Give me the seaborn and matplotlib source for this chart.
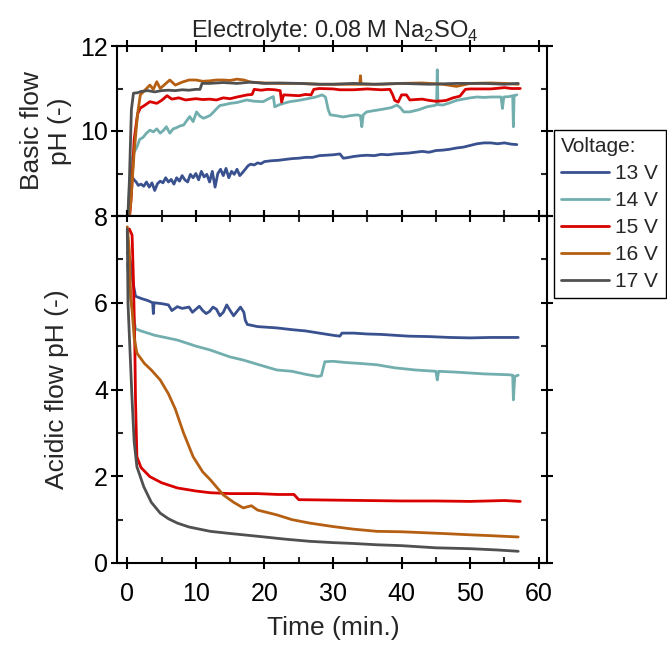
import matplotlib
matplotlib.use("Agg")
import matplotlib.pyplot as plt
from matplotlib.lines import Line2D
from matplotlib.ticker import MultipleLocator
import pandas as pd
import seaborn as sns

VOLTAGES = ["13 V", "14 V", "15 V", "16 V", "17 V"]
COLORS = ["#3a5190", "#72aeae", "#d90000", "#b55f12", "#505050"]

# Basic flow pH (time in min., pH)
BASIC_13 = [(0.0,7.7),(0.3,8.3),(0.5,8.75),(0.8,8.9),(1.0,8.85),(1.3,8.8),(1.6,8.72),(2.0,8.75),(2.4,8.7),(2.8,8.8),(3.2,8.68),(3.6,8.78),(4.0,8.6),(4.4,8.76),(4.8,8.82),(5.2,8.78),(5.6,8.9),(6.0,8.8),(6.4,8.86),(6.8,8.75),(7.2,8.9),(7.6,8.82),(8.0,8.95),(8.4,8.85),(8.8,8.8),(9.2,8.98),(9.6,8.9),(10.0,9.0),(10.4,8.85),(10.8,9.05),(11.2,8.92),(11.6,8.98),(12.0,8.8),(12.4,9.05),(12.8,8.68),(13.2,9.0),(13.6,9.1),(14.0,8.95),(14.4,9.12),(14.8,8.9),(15.2,9.05),(15.6,8.98),(16.0,9.1),(16.4,8.95),(16.8,9.02),(17.2,9.1),(17.6,9.18),(18.0,9.22),(18.5,9.2),(19.0,9.25),(19.5,9.23),(20,9.28),(21,9.3),(22,9.31),(23,9.33),(24,9.35),(25,9.36),(26,9.38),(27,9.38),(28,9.42),(29,9.43),(30,9.44),(31,9.46),(31.5,9.36),(32,9.37),(33,9.4),(34,9.42),(35,9.43),(36,9.42),(37,9.45),(38,9.44),(39,9.46),(40,9.47),(41,9.48),(42,9.5),(43,9.52),(44,9.5),(45,9.54),(46,9.55),(47,9.57),(48,9.6),(49,9.62),(50,9.66),(51,9.7),(52,9.72),(53,9.72),(54,9.7),(55,9.72),(56,9.69),(56.8,9.68)]
BASIC_14 = [(0.0,7.7),(0.3,8.6),(0.6,9.3),(1.0,9.5),(1.4,9.62),(1.8,9.8),(2.3,9.85),(2.8,9.95),(3.3,10.02),(3.8,9.98),(4.3,10.05),(4.8,9.95),(5.3,10.02),(5.7,10.1),(6.2,9.95),(6.7,10.05),(7.2,10.08),(7.7,10.12),(8.2,10.14),(8.7,10.25),(9.1,10.34),(9.6,10.22),(10.1,10.45),(10.6,10.35),(11.1,10.3),(11.6,10.33),(12.1,10.37),(12.6,10.45),(13.0,10.52),(13.5,10.6),(14.2,10.62),(15.0,10.65),(16.0,10.67),(17.4,10.73),(18.5,10.7),(19.8,10.69),(20.5,10.75),(21.3,10.81),(21.5,10.57),(22.2,10.62),(23.0,10.66),(23.7,10.69),(25.0,10.72),(26.6,10.77),(27.5,10.8),(28.4,10.85),(28.9,10.8),(29.3,10.5),(29.6,10.38),(30.5,10.36),(31.5,10.33),(32.5,10.36),(33.5,10.38),(34.0,10.36),(34.2,10.1),(34.4,10.38),(34.9,10.45),(36.4,10.49),(37.5,10.52),(38.5,10.55),(39.3,10.61),(39.8,10.55),(40.3,10.45),(41.2,10.45),(42.5,10.5),(43.7,10.57),(44.8,10.6),(45.1,10.62),(45.2,11.44),(45.3,10.62),(46,10.61),(47,10.66),(48,10.72),(49,10.75),(50,10.78),(51,10.8),(52,10.79),(53,10.8),(54.5,10.8),(54.7,10.53),(54.9,10.8),(55.7,10.81),(56.2,10.83),(56.3,10.1),(56.4,10.83),(56.8,10.85)]
BASIC_15 = [(0.2,7.7),(0.6,8.5),(1.0,9.8),(1.5,10.4),(1.9,10.54),(2.5,10.6),(3.3,10.69),(4.3,10.65),(5.0,10.72),(5.8,10.83),(6.5,10.75),(7.5,10.78),(8.5,10.73),(10,10.76),(11,10.74),(12,10.75),(13,10.73),(14,10.78),(15,10.76),(16,10.8),(17.5,10.85),(18.2,10.86),(18.5,10.98),(19.5,10.96),(20.5,10.98),(21.5,10.97),(22.3,10.95),(22.5,10.68),(22.8,10.85),(24,10.84),(25,10.83),(26,10.86),(26.8,10.85),(27.2,10.98),(28,11.0),(30,10.99),(31,10.97),(33,10.97),(35,10.99),(37,10.97),(38.3,10.98),(38.7,10.85),(39.0,10.72),(39.5,10.68),(40,10.85),(40.7,10.85),(41.2,10.73),(42,10.74),(43,10.75),(44,10.72),(45,10.7),(46,10.71),(46.5,10.72),(47.5,10.78),(48.5,10.82),(49.3,10.98),(50,10.99),(51,10.99),(53,10.99),(55,11.02),(56,11.0),(57.3,11.0)]
BASIC_16 = [(0.0,7.6),(0.5,8.3),(1.0,9.5),(1.5,10.4),(1.9,10.85),(2.5,10.95),(3.3,11.08),(3.8,10.98),(4.3,11.16),(4.8,11.0),(5.5,11.1),(6.2,11.2),(7.0,11.08),(8.0,11.15),(9.0,11.2),(10,11.2),(11,11.17),(12,11.18),(13,11.2),(14,11.2),(15,11.19),(16,11.22),(17,11.2),(18,11.15),(20,11.13),(22,11.12),(25,11.12),(28,11.1),(30,11.1),(33,11.1),(33.9,11.1),(34.0,11.3),(34.1,11.1),(37,11.1),(40,11.12),(43,11.13),(46,11.1),(48,11.05),(50,11.12),(53,11.13),(55,11.12),(57,11.1)]
BASIC_17 = [(0.0,7.7),(0.3,8.8),(0.6,10.5),(0.9,10.89),(1.5,10.9),(2.0,10.93),(3,10.95),(4,10.92),(5,10.95),(6,10.96),(7,10.95),(8,10.97),(9,10.96),(10,10.98),(10.6,10.98),(10.9,11.12),(12,11.12),(14,11.14),(16,11.12),(18,11.15),(20,11.12),(22,11.13),(25,11.12),(28,11.1),(30,11.1),(33,11.12),(36,11.1),(40,11.12),(44,11.1),(48,11.12),(52,11.12),(55,11.1),(57,11.12)]

# Acidic flow pH (time in min., pH)
ACIDIC_13 = [(0.0,7.15),(0.4,7.0),(0.8,6.5),(1.2,6.15),(2.0,6.1),(3.0,6.05),(3.7,6.0),(3.8,5.75),(3.9,6.0),(5,5.98),(6,5.95),(6.5,5.82),(7.3,5.91),(8,5.87),(9,5.9),(9.5,5.78),(10,5.85),(10.5,5.92),(11,5.82),(11.5,5.75),(12,5.8),(12.5,5.9),(13,5.85),(13.5,5.7),(14,5.78),(14.5,5.95),(15,5.82),(15.5,5.7),(16,5.8),(16.5,5.9),(17,5.78),(17.2,5.6),(17.5,5.5),(19,5.45),(21.8,5.42),(24,5.38),(26,5.35),(28,5.3),(30,5.25),(31,5.23),(31.3,5.3),(33,5.3),(35,5.28),(37,5.27),(39,5.25),(41,5.23),(44,5.22),(47,5.2),(50,5.19),(53,5.2),(57,5.2)]
ACIDIC_14 = [(0.0,6.9),(0.6,6.0),(1.2,5.4),(2,5.35),(4,5.25),(7.3,5.14),(10,5.0),(12.1,4.91),(15,4.75),(16.9,4.68),(19,4.58),(21.8,4.45),(24,4.42),(26,4.35),(27.8,4.3),(28.3,4.32),(28.8,4.64),(30,4.65),(32,4.62),(34,4.6),(36.4,4.57),(39,4.5),(42,4.45),(45.0,4.42),(45.2,4.22),(45.4,4.42),(48,4.4),(52,4.36),(55.6,4.34),(56.2,4.33),(56.3,3.76),(56.5,4.3),(57,4.33)]
ACIDIC_15 = [(0.3,7.7),(0.7,7.56),(0.9,6.5),(1.1,5.0),(1.2,3.76),(1.4,2.45),(2.0,2.2),(3.3,1.99),(5,1.85),(7.3,1.73),(10,1.66),(12.1,1.62),(15,1.6),(18.9,1.6),(22,1.58),(24.3,1.58),(25,1.46),(30,1.45),(35,1.44),(40,1.43),(45,1.43),(50,1.42),(55,1.44),(57.3,1.42)]
ACIDIC_16 = [(0.0,7.75),(0.3,7.2),(0.5,6.1),(0.7,5.83),(1.0,5.2),(1.4,4.84),(2.5,4.6),(3.5,4.45),(4.8,4.22),(6,3.9),(7,3.55),(8.2,3.0),(9.6,2.45),(11,2.1),(12.1,1.92),(14,1.57),(15.5,1.4),(16.9,1.27),(18.1,1.32),(19,1.22),(21.8,1.11),(24,1.0),(26.6,0.92),(30,0.84),(33,0.78),(36.4,0.73),(40,0.72),(43,0.7),(46,0.68),(50,0.65),(53,0.63),(57,0.6)]
ACIDIC_17 = [(0.0,7.7),(0.1,6.0),(0.5,4.5),(0.7,3.76),(1.0,2.8),(1.4,2.22),(2.4,1.76),(3.5,1.4),(4.8,1.15),(6,1.02),(7.3,0.92),(9,0.83),(12.1,0.73),(15,0.68),(16.9,0.65),(20,0.6),(23,0.55),(26.6,0.5),(30,0.47),(33,0.45),(36.4,0.42),(40,0.4),(45,0.35),(50,0.33),(54,0.3),(57,0.27)]

BASIC = [BASIC_13, BASIC_14, BASIC_15, BASIC_16, BASIC_17]
ACIDIC = [ACIDIC_13, ACIDIC_14, ACIDIC_15, ACIDIC_16, ACIDIC_17]


def to_frame(series_list):
    rows = []
    for v, s in zip(VOLTAGES, series_list):
        for t, p in s:
            rows.append((v, t, p))
    return pd.DataFrame(rows, columns=["Voltage", "Time", "pH"])


sns.set_style("ticks")
plt.rcParams["font.family"] = ["Liberation Sans", "DejaVu Sans"]
plt.rcParams["mathtext.fontset"] = "custom"
plt.rcParams["mathtext.rm"] = "Liberation Sans"
plt.rcParams["axes.edgecolor"] = "black"
plt.rcParams["axes.linewidth"] = 1.5

fig = plt.figure(figsize=(6.67, 6.5), dpi=100)
W = 430 / 667
L = 117 / 667
ax_top = fig.add_axes([L, 1 - 216 / 650, W, 170 / 650])
ax_bot = fig.add_axes([L, 1 - 563 / 650, W, 347 / 650])

pal = dict(zip(VOLTAGES, COLORS))
for ax, series in ((ax_top, BASIC), (ax_bot, ACIDIC)):
    sns.lineplot(data=to_frame(series), x="Time", y="pH", hue="Voltage",
                 hue_order=VOLTAGES, palette=pal, sort=False, estimator=None,
                 lw=2.0, ax=ax, legend=False)
    ax.set_xlim(-1.5, 61.2)
    ax.xaxis.set_major_locator(MultipleLocator(10))
    ax.xaxis.set_minor_locator(MultipleLocator(5))
    ax.yaxis.set_minor_locator(MultipleLocator(1))
    ax.tick_params(which="major", direction="inout", length=9, width=1.5,
                   top=True, right=True, labelsize=18, colors="black")
    ax.tick_params(which="minor", direction="in", length=4, width=1.5,
                   top=True, right=True)
    ax.tick_params(axis="y", which="major", pad=2)
    ax.tick_params(axis="x", which="major", pad=9)
    for sp in ax.spines.values():
        sp.set_visible(True)
        sp.set_linewidth(1.5)
        sp.set_color("black")
    ax.set_xlabel("")
    ax.set_ylabel("")

ax_top.set_ylim(8, 12)
ax_top.set_yticks([8, 10, 12])
ax_top.set_yticklabels(["", "10", "12"])
ax_top.tick_params(labelbottom=False)

ax_bot.set_ylim(0, 8)
ax_bot.set_yticks([0, 2, 4, 6, 8])

ax_top.set_ylabel("Basic flow\npH (-)", fontsize=19, va="center")
ax_top.yaxis.set_label_coords(-0.165, 0.5)
ax_bot.set_ylabel("Acidic flow pH (-)", fontsize=19, va="center")
ax_bot.yaxis.set_label_coords(-0.139, 0.5)
ax_bot.set_xlabel("Time (min.)", fontsize=19, va="center")
ax_bot.xaxis.set_label_coords(0.502, -0.187)

fig.text(0.502, 1 - 37 / 650, r"Electrolyte: 0.08 M Na$_\mathregular{2}$SO$_\mathregular{4}$",
         ha="center", va="baseline", fontsize=17)

handles = [Line2D([], [], color=c, lw=2) for c in COLORS]
leg = fig.legend(handles, VOLTAGES, title="Voltage:", loc="upper left",
                 bbox_to_anchor=(554 / 667, 1 - 130 / 650), fontsize=15,
                 title_fontsize=15, frameon=True, fancybox=False,
                 edgecolor="black", framealpha=1, handlelength=2.3,
                 handletextpad=0.3, labelspacing=0.38, borderpad=0.35,
                 borderaxespad=0, alignment="left")
leg.get_frame().set_linewidth(1.0)

fig.savefig("out.png", dpi=100)
